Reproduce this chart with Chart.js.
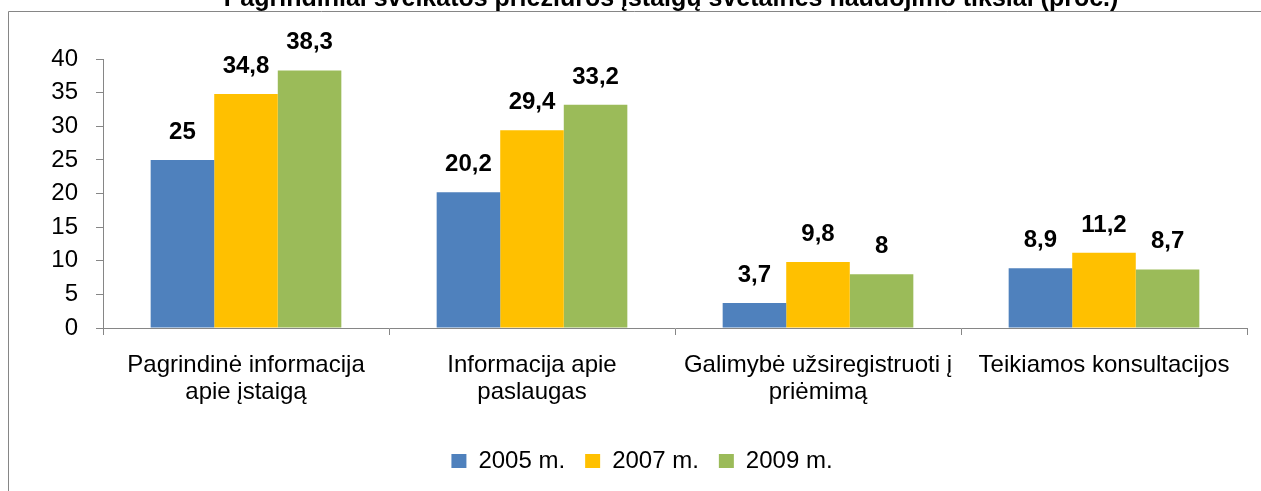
<!DOCTYPE html>
<html>
<head>
<meta charset="utf-8">
<script src="https://cdn.jsdelivr.net/npm/chart.js@4"></script>
<style>
  html, body { margin: 0; padding: 0; background: #fff; }
  #wrap { position: relative; width: 1261px; height: 491px; }
</style>
</head>
<body>
<div id="wrap"><canvas id="c"></canvas></div>
<script>
const chartTitle = "Pagrindiniai sveikatos priežiūros įstaigų svetainės naudojimo tikslai (proc.)";
const categories = [
  ["Pagrindinė informacija", "apie įstaigą"],
  ["Informacija apie", "paslaugas"],
  ["Galimybė užsiregistruoti į", "priėmimą"],
  "Teikiamos konsultacijos"
];
const seriesNames = ["2005 m.", "2007 m.", "2009 m."];
const values2005 = [25, 20.2, 3.7, 8.9];
const values2007 = [34.8, 29.4, 9.8, 11.2];
const values2009 = [38.3, 33.2, 8, 8.7];
const seriesColors = ["#4F81BD", "#FFC000", "#9BBB59"];
const yTicks = { min: 0, max: 40, step: 5 };

const FONT = "'Liberation Sans', Arial, sans-serif";
const AXIS = "#868686";

const frameAndTitle = {
  id: 'frameAndTitle',
  beforeDraw(chart) {
    const ctx = chart.ctx;
    ctx.save();
    ctx.strokeStyle = AXIS;
    ctx.lineWidth = 1;
    ctx.beginPath();
    ctx.moveTo(8.5, 491);
    ctx.lineTo(8.5, 11.5);
    ctx.lineTo(1261, 11.5);
    ctx.stroke();
    ctx.fillStyle = '#000';
    ctx.font = "bold 25px " + FONT;
    ctx.textAlign = 'center';
    ctx.textBaseline = 'alphabetic';
    ctx.fillText(chartTitle, 671, 5.5);
    ctx.restore();
  }
};

const valueLabels = {
  id: 'valueLabels',
  afterDatasetsDraw(chart) {
    const ctx = chart.ctx;
    ctx.save();
    ctx.fillStyle = '#000';
    ctx.font = "bold 24px " + FONT;
    ctx.textAlign = 'center';
    ctx.textBaseline = 'alphabetic';
    chart.data.datasets.forEach((ds, i) => {
      const meta = chart.getDatasetMeta(i);
      meta.data.forEach((el, j) => {
        const txt = String(ds.data[j]).replace('.', ',');
        ctx.fillText(txt, el.x, el.y - 21);
      });
    });
    ctx.restore();
  }
};

new Chart(document.getElementById('c'), {
  type: 'bar',
  data: {
    labels: categories,
    datasets: [
      { label: seriesNames[0], data: values2005, backgroundColor: seriesColors[0] },
      { label: seriesNames[1], data: values2007, backgroundColor: seriesColors[1] },
      { label: seriesNames[2], data: values2009, backgroundColor: seriesColors[2] }
    ]
  },
  options: {
    responsive: true,
    maintainAspectRatio: false,
    animation: false,
    datasets: { bar: { categoryPercentage: 0.6667, barPercentage: 1.0 } },
    layout: { padding: { left: 37, right: 14, top: 59, bottom: 8 } },
    plugins: {
      title: { display: false },
      tooltip: { enabled: false },
      legend: {
        display: true,
        position: 'bottom',
        labels: {
          font: { family: FONT, size: 24 },
          color: '#000',
          boxWidth: 15,
          boxHeight: 14,
          padding: 20
        }
      }
    },
    scales: {
      x: {
        afterFit(scale) { scale.height += 6; },
        grid: { display: true, drawOnChartArea: false, drawTicks: true, tickLength: 7, color: AXIS, offset: true },
        border: { display: true, color: AXIS },
        ticks: {
          font: { family: FONT, size: 24, lineHeight: 1.125 },
          color: '#000',
          padding: 17,
          maxRotation: 0,
          autoSkip: false
        }
      },
      y: {
        min: yTicks.min,
        max: yTicks.max,
        afterFit(scale) { scale.width = 66; },
        grid: { display: true, drawOnChartArea: false, drawTicks: true, tickLength: 7, color: AXIS },
        border: { display: true, color: AXIS },
        ticks: {
          stepSize: yTicks.step,
          font: { family: FONT, size: 24 },
          color: '#000',
          padding: 18
        }
      }
    }
  },
  plugins: [frameAndTitle, valueLabels]
});
</script>
</body>
</html>
